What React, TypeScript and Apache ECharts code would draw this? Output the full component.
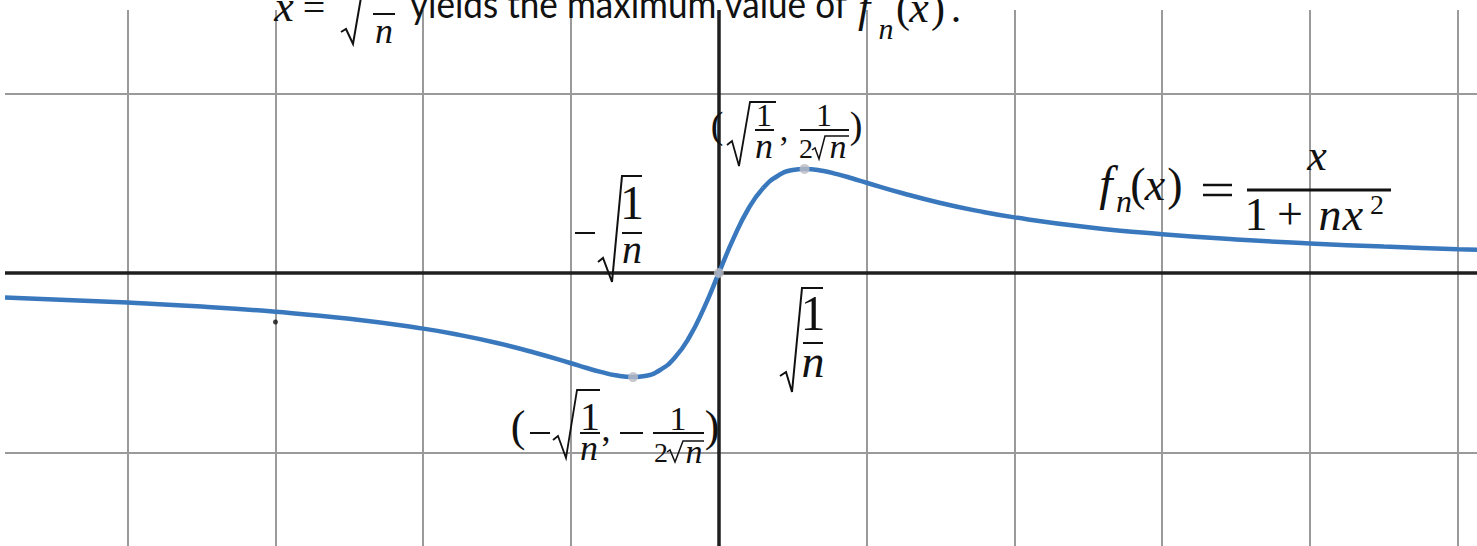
import React, { useEffect, useRef } from "react";
import * as echarts from "echarts";

// Sampled points of f_n(x) = x / (1 + n x^2), in grid units (one unit = one grid cell)
const curveX = [
  -4.83, -4.5, -4, -3.5, -3, -2.5, -2, -1.75, -1.5, -1.25, -1, -0.9, -0.8, -0.7, -0.58, -0.5, -0.4, -0.3, -0.2, -0.1,
  0, 0.1, 0.2, 0.3, 0.4, 0.5, 0.58, 0.7, 0.8, 0.9, 1, 1.25, 1.5, 1.75, 2, 2.5, 3, 3.5, 4, 4.5, 5, 5.13,
];
const curveY = [
  -0.137, -0.147, -0.165, -0.187, -0.216, -0.255, -0.31, -0.346, -0.39, -0.443, -0.503, -0.528, -0.551, -0.57, -0.58,
  -0.574, -0.542, -0.473, -0.358, -0.194, 0, 0.194, 0.358, 0.473, 0.542, 0.574, 0.58, 0.57, 0.551, 0.528, 0.503, 0.443,
  0.39, 0.346, 0.31, 0.255, 0.216, 0.187, 0.165, 0.147, 0.133, 0.13,
];

// Minimum, origin and maximum of the curve
const extremaX = [-0.58, 0, 0.58];
const extremaY = [-0.58, 0, 0.58];

// A small stray dot on the left
const dotX = [-3];
const dotY = [-0.273];

// Grid line positions
const gridXs = [-4, -3, -2, -1, 1, 2, 3, 4, 5];
const gridYs = [-1, 1];

// Text pieces
const sentence = "yields the maximum value of";

const X_MIN = -4.83;
const X_MAX = 5.13;
const Y_MIN = -1.521;
const Y_MAX = 1.521;
const LINE_TOP = 1.465;

const SERIF = "'Liberation Serif', 'DejaVu Serif', serif";
const SANS = "Lato, 'Open Sans', sans-serif";
const INK = "#111";

function glyph(text: string, cx: number, baseline: number, size: number, italic = true): any {
  return {
    type: "text",
    x: cx,
    y: baseline - 0.34 * size,
    z: 20,
    silent: true,
    style: {
      text,
      fontSize: size,
      fontFamily: SERIF,
      fontStyle: italic ? "italic" : "normal",
      fill: INK,
      align: "center",
      verticalAlign: "middle",
    },
  };
}

function rule(x1: number, y: number, x2: number, w = 2): any {
  return {
    type: "line",
    z: 20,
    silent: true,
    shape: { x1, y1: y, x2, y2: y },
    style: { stroke: INK, lineWidth: w },
  };
}

function radical(points: number[][], w = 1.8): any {
  return {
    type: "polyline",
    z: 20,
    silent: true,
    shape: { points },
    style: { stroke: INK, lineWidth: w, fill: null, lineJoin: "miter" },
  };
}

function measure(text: string, font: string): number {
  const c = document.createElement("canvas").getContext("2d");
  if (!c) return 1;
  c.font = font;
  return c.measureText(text).width;
}

function buildGraphics(): any[] {
  const g: any[] = [];

  // Heading: x = sqrt(1/n) yields the maximum value of f_n(x).
  g.push(glyph("x", 284, 21, 44));
  g.push(glyph("=", 314, 21, 40, false));
  g.push(radical([[341, 32], [346, 29], [353, 44], [364, -20], [400, -20]], 2));
  g.push(rule(373, 14, 395, 2));
  g.push(glyph("n", 384, 43, 36));
  const sentSize = 38;
  const sentW = measure(sentence, `${sentSize}px ${SANS}`);
  g.push({
    type: "text",
    x: 410,
    y: 22,
    z: 20,
    silent: true,
    scaleX: 438 / sentW,
    style: {
      text: sentence,
      fontSize: sentSize,
      fontFamily: SANS,
      fill: INK,
      align: "left",
      verticalAlign: "bottom",
    },
  });
  g.push(glyph("f", 864, 22, 44));
  g.push(glyph("n", 886, 39, 30));
  g.push(glyph("(", 903, 22, 42, false));
  g.push(glyph("x", 919, 22, 44));
  g.push(glyph(")", 938, 22, 42, false));
  g.push(glyph(".", 956, 22, 42, false));

  // Maximum label: (sqrt(1/n), 1/(2 sqrt n))
  g.push(glyph("(", 717, 138, 38, false));
  g.push(radical([[727, 145], [732, 141], [739, 166], [750, 102], [776, 102]]));
  g.push(glyph("1", 764, 126, 32, false));
  g.push(rule(755, 130, 774));
  g.push(glyph("n", 764, 158, 36));
  g.push(glyph(",", 784, 141, 34, false));
  g.push(glyph("1", 824, 126, 32, false));
  g.push(rule(800, 130, 849));
  g.push(glyph("2", 806, 158, 28, false));
  g.push(radical([[812, 150], [815, 148], [819, 159], [825, 136], [849, 136]], 1.5));
  g.push(glyph("n", 838, 158, 34));
  g.push(glyph(")", 856, 138, 38, false));

  // Left label: -sqrt(1/n)
  g.push(rule(575, 233, 595));
  g.push(radical([[598, 262], [603, 258], [612, 282], [622, 176], [642, 176]], 2));
  g.push(glyph("1", 632, 219, 48, false));
  g.push(rule(622, 233, 642));
  g.push(glyph("n", 632, 263, 40));

  // Right label: sqrt(1/n)
  g.push(radical([[780, 376], [786, 372], [792, 392], [802, 288], [823, 288]], 2));
  g.push(glyph("1", 813, 330, 50, false));
  g.push(rule(803, 343, 823));
  g.push(glyph("n", 813, 377, 46));

  // Minimum label: (-sqrt(1/n), -1/(2 sqrt n))
  g.push(glyph("(", 518, 441, 44, false));
  g.push(rule(530, 433, 550));
  g.push(radical([[553, 440], [558, 436], [566, 458], [577, 390], [600, 390]]));
  g.push(glyph("1", 590, 430, 40, false));
  g.push(rule(580, 433, 600));
  g.push(glyph("n", 589, 460, 36));
  g.push(glyph(",", 606, 441, 36, false));
  g.push(rule(620, 433, 643));
  g.push(glyph("1", 678, 430, 34, false));
  g.push(rule(653, 433, 704));
  g.push(glyph("2", 661, 462, 28, false));
  g.push(radical([[667, 452], [670, 450], [675, 462], [683, 441], [704, 441]], 1.5));
  g.push(glyph("n", 694, 463, 34));
  g.push(glyph(")", 712, 441, 44, false));

  // Function label: f_n(x) = x / (1 + n x^2)
  g.push(glyph("f", 1106, 200, 48));
  g.push(glyph("n", 1124, 212, 32));
  g.push(glyph("(", 1138, 200, 46, false));
  g.push(glyph("x", 1155, 200, 46));
  g.push(glyph(")", 1175, 200, 46, false));
  g.push(rule(1203, 185, 1232, 2.5));
  g.push(rule(1203, 195, 1232, 2.5));
  g.push(glyph("x", 1317, 170, 44));
  g.push(rule(1247, 190, 1391, 3));
  g.push(glyph("1", 1256, 230, 46, false));
  g.push(glyph("+", 1290, 229, 46, false));
  g.push(glyph("n", 1330, 230, 46));
  g.push(glyph("x", 1353, 230, 46));
  g.push(glyph("2", 1377, 214, 28, false));

  return g;
}

export default function App() {
  const ref = useRef<HTMLDivElement>(null);

  useEffect(() => {
    if (!ref.current) return;
    const chart = echarts.init(ref.current, undefined, { renderer: "svg" });

    const gridStyle = { color: "#9a9a9a", width: 2, type: "solid" as const };
    const axisStyle = { color: "#1f1f1f", width: 3.5, type: "solid" as const };

    const lines: any[] = [
      ...gridXs.map((v) => [{ coord: [v, LINE_TOP], lineStyle: gridStyle }, { coord: [v, Y_MIN] }]),
      ...gridYs.map((v) => ({ yAxis: v, lineStyle: gridStyle })),
      [{ coord: [0, LINE_TOP], lineStyle: axisStyle }, { coord: [0, Y_MIN] }],
      { yAxis: 0, lineStyle: axisStyle },
    ];

    chart.setOption({
      animation: false,
      backgroundColor: "#ffffff",
      grid: { left: 5, right: 0, top: 0, bottom: 0 },
      xAxis: { type: "value", min: X_MIN, max: X_MAX, show: false },
      yAxis: { type: "value", min: Y_MIN, max: Y_MAX, show: false },
      series: [
        {
          type: "line",
          data: [],
          z: 1,
          silent: true,
          markLine: {
            silent: true,
            symbol: "none",
            animation: false,
            label: { show: false },
            lineStyle: { type: "solid" },
            emphasis: { disabled: true },
            data: lines,
          },
        },
        {
          type: "line",
          data: curveX.map((x, i) => [x, curveY[i]]),
          smooth: true,
          showSymbol: false,
          silent: true,
          z: 5,
          lineStyle: { color: "#3a78be", width: 4.5 },
        },
        {
          type: "scatter",
          data: extremaX.map((x, i) => [x, extremaY[i]]),
          symbolSize: 10,
          silent: true,
          z: 6,
          itemStyle: { color: "#bcbcc4" },
        },
        {
          type: "scatter",
          data: dotX.map((x, i) => [x, dotY[i]]),
          symbolSize: 5,
          silent: true,
          z: 6,
          itemStyle: { color: "#111" },
        },
      ],
      graphic: buildGraphics(),
    });

    return () => chart.dispose();
  }, []);

  return (
    <div
      ref={ref}
      style={{ position: "absolute", left: 0, top: 0, width: 1477, height: 546, background: "#fff" }}
    />
  );
}
